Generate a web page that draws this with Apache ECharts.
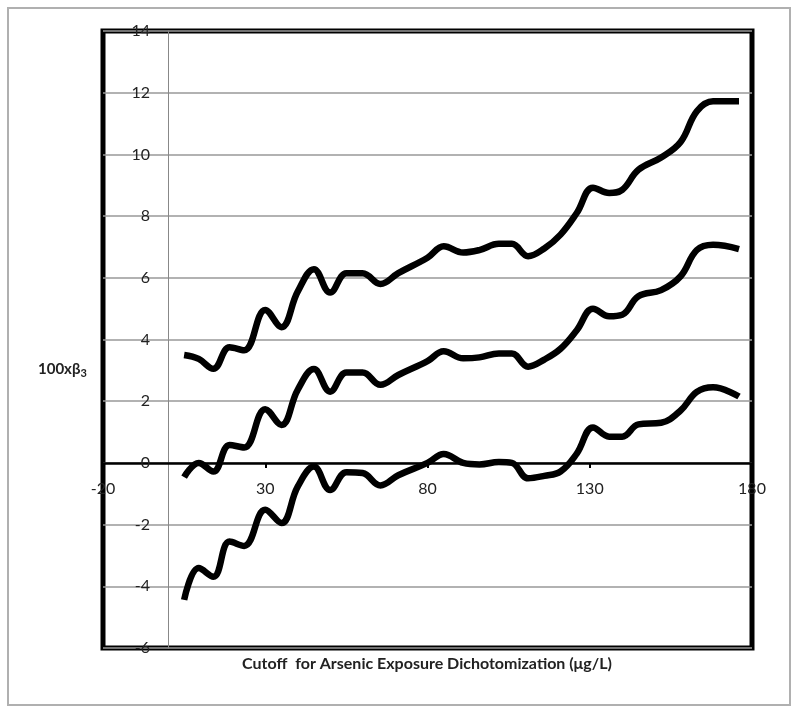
<!DOCTYPE html>
<html>
<head>
<meta charset="utf-8">
<script src="https://cdn.jsdelivr.net/npm/echarts@6/dist/echarts.min.js"></script>
<style>
html, body { margin: 0; padding: 0; background: #fff; }
#main { width: 800px; height: 713px; }
</style>
</head>
<body>
<div id="main"></div>
<script>
var cutoffs = [5, 9.5, 14, 19, 23.5, 30, 35, 40, 45, 50, 55, 60, 65.5, 71, 80, 85, 91, 96, 102, 106, 111, 116, 121, 126, 131, 136, 140, 145, 152, 158, 163, 168, 176];
var upper = [3.5, 3.37, 3.05, 3.75, 3.65, 4.96, 4.4, 5.55, 6.28, 5.52, 6.15, 6.15, 5.8, 6.15, 6.65, 7.02, 6.82, 6.9, 7.1, 7.1, 6.7, 6.95, 7.4, 8.1, 8.92, 8.75, 8.85, 9.5, 9.9, 10.4, 11.4, 11.72, 11.72];
var estimate = [-0.46, 0.0, -0.28, 0.58, 0.5, 1.74, 1.23, 2.37, 3.04, 2.31, 2.93, 2.93, 2.53, 2.85, 3.3, 3.62, 3.39, 3.42, 3.55, 3.55, 3.12, 3.35, 3.7, 4.3, 5.0, 4.75, 4.8, 5.4, 5.6, 6.05, 6.9, 7.07, 6.93];
var lower = [-4.44, -3.41, -3.69, -2.55, -2.69, -1.52, -1.95, -0.77, -0.12, -0.88, -0.3, -0.33, -0.73, -0.4, 0.0, 0.29, 0.0, -0.05, 0.03, 0.0, -0.5, -0.42, -0.28, 0.3, 1.15, 0.85, 0.85, 1.25, 1.3, 1.7, 2.3, 2.45, 2.15];

function pairs(ys) {
    return cutoffs.map(function (x, i) { return [x, ys[i]]; });
}

var chart = echarts.init(document.getElementById('main'));

var lineStyle = { color: '#000', width: 6.5 };

// plot box: x -20..180 over 103..752 px, y -6..14 over 648..31 px
// axes cross at (0, 0), so shift them inward from the box edges
var xAxisShift = -(648 - 463);
var yAxisShift = -(168 - 103);

var option = {
    backgroundColor: '#fff',
    animation: false,
    textStyle: { fontFamily: 'Lato' },
    grid: {
        left: 103, right: 48, top: 31, bottom: 65,
        show: true,
        borderColor: '#000',
        borderWidth: 5
    },
    graphic: [
        {
            type: 'rect', z: -1,
            shape: { x: 8, y: 8, width: 782, height: 697 },
            style: { fill: 'none', stroke: '#b0b0b0', lineWidth: 2 }
        },
        {
            type: 'text', left: 38, top: 362,
            style: {
                text: '{b|100xβ}{s|3}',
                rich: {
                    b: { font: 'bold 15px Lato', fill: '#222' },
                    s: { font: 'bold 11px Lato', fill: '#222', padding: [8, 0, 0, 0] }
                }
            }
        },
        {
            type: 'text', x: 427, y: 656,
            style: {
                text: 'Cutoff  for Arsenic Exposure Dichotomization (μg/L)',
                font: 'bold 16px Lato', fill: '#222', align: 'center'
            }
        }
    ],
    xAxis: {
        type: 'value',
        min: -20, max: 180, interval: 50,
        offset: xAxisShift,
        axisLine: { onZero: false, lineStyle: { color: '#000', width: 2.5 } },
        axisTick: { show: true, length: 5, lineStyle: { color: '#000', width: 2 } },
        axisLabel: { color: '#222', fontSize: 16, margin: 18 },
        splitLine: { show: false }
    },
    yAxis: {
        type: 'value',
        min: -6, max: 14, interval: 2,
        offset: yAxisShift,
        axisLine: { onZero: false, lineStyle: { color: '#888', width: 1 } },
        axisTick: { show: false },
        axisLabel: { color: '#222', fontSize: 16, margin: 18 },
        splitLine: { show: true, lineStyle: { color: '#999', width: 1.5 } }
    },
    series: [
        { type: 'line', data: pairs(upper), smooth: 0.4, showSymbol: false, lineStyle: lineStyle },
        { type: 'line', data: pairs(estimate), smooth: 0.4, showSymbol: false, lineStyle: lineStyle },
        { type: 'line', data: pairs(lower), smooth: 0.4, showSymbol: false, lineStyle: lineStyle }
    ]
};

chart.setOption(option);
</script>
</body>
</html>
